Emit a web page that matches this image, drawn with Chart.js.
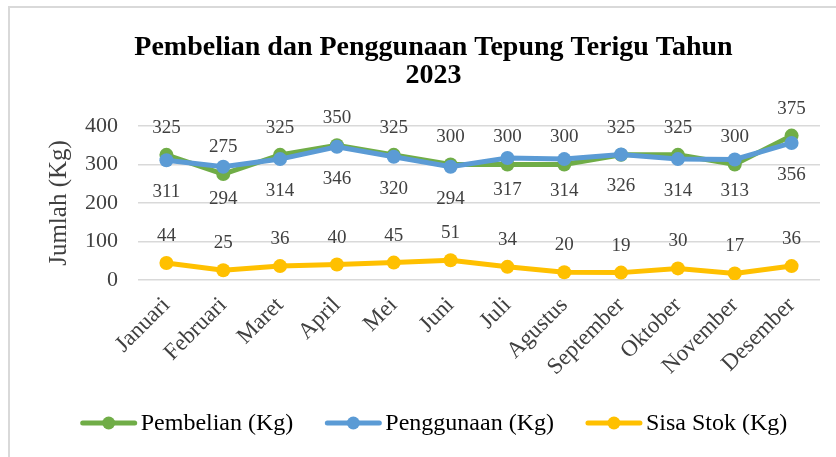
<!DOCTYPE html>
<html>
<head>
<meta charset="utf-8">
<script src="https://cdn.jsdelivr.net/npm/chart.js@4.4.1/dist/chart.umd.min.js"></script>
<style>
    body { margin: 0; background: #ffffff; }
    #wrap { position: relative; width: 836px; height: 457px; overflow: hidden; }
    #frame { position: absolute; left: 8px; top: 6px; width: 900px; height: 520px; border: 2px solid #d9d9d9; }
    #chart { position: absolute; left: 0; top: 0; }
</style>
</head>
<body>
<div id="wrap">
    <div id="frame"></div>
    <canvas id="chart" width="836" height="457"></canvas>
</div>
<script>
const bulan = ["Januari", "Februari", "Maret", "April", "Mei", "Juni", "Juli", "Agustus", "September", "Oktober", "November", "Desember"];
const pembelian = [325, 275, 325, 350, 325, 300, 300, 300, 325, 325, 300, 375];
const penggunaan = [311, 294, 314, 346, 320, 294, 317, 314, 326, 314, 313, 356];
const sisaStok = [44, 25, 36, 40, 45, 51, 34, 20, 19, 30, 17, 36];
const yTicks = [0, 100, 200, 300, 400];

const serif = "'Liberation Serif', 'Times New Roman', serif";

// value labels next to each point, offset per dataset
const valueLabels = {
    id: 'valueLabels',
    afterDatasetsDraw(chart) {
        const ctx = chart.ctx;
        ctx.save();
        ctx.font = "19px " + serif;
        ctx.fillStyle = "#404040";
        ctx.textAlign = "center";
        ctx.textBaseline = "middle";
        chart.data.datasets.forEach((ds, i) => {
            const meta = chart.getDatasetMeta(i);
            meta.data.forEach((pt, j) => {
                ctx.fillText(ds.data[j], pt.x, pt.y + ds.labelOffset);
            });
        });
        ctx.restore();
    }
};

// legend with line + marker like the office chart
const lineLegend = {
    id: 'lineLegend',
    afterDraw(chart) {
        const ctx = chart.ctx;
        const y = 423;
        const lineLen = 56, gap = 4, space = 32;
        ctx.save();
        ctx.font = "24px " + serif;
        let total = 0;
        const widths = chart.data.datasets.map(ds => ctx.measureText(ds.label).width);
        widths.forEach(w => total += lineLen + gap + w);
        total += space * (widths.length - 1);
        let x = 434 - total / 2;
        chart.data.datasets.forEach((ds, i) => {
            ctx.strokeStyle = ds.borderColor;
            ctx.lineWidth = 5;
            ctx.lineCap = "round";
            ctx.beginPath();
            ctx.moveTo(x + 2, y);
            ctx.lineTo(x + lineLen - 2, y);
            ctx.stroke();
            ctx.fillStyle = ds.borderColor;
            ctx.beginPath();
            ctx.arc(x + lineLen / 2, y, 6.5, 0, Math.PI * 2);
            ctx.fill();
            ctx.fillStyle = "#000000";
            ctx.textAlign = "left";
            ctx.textBaseline = "middle";
            ctx.fillText(ds.label, x + lineLen + gap, y + 1);
            x += lineLen + gap + widths[i] + space;
        });
        ctx.restore();
    }
};

function makeSet(label, data, color, order, offset) {
    return {
        label: label,
        data: data,
        borderColor: color,
        backgroundColor: color,
        borderWidth: 5,
        pointRadius: 7,
        pointBorderWidth: 0,
        pointBackgroundColor: color,
        tension: 0,
        order: order,
        labelOffset: offset
    };
}

const chart = new Chart(document.getElementById('chart'), {
    type: 'line',
    data: {
        labels: bulan,
        datasets: [
            makeSet('Pembelian (Kg)', pembelian, '#70ad47', 2, -27),
            makeSet('Penggunaan (Kg)', penggunaan, '#5b9bd5', 1, 32),
            makeSet('Sisa Stok (Kg)', sisaStok, '#ffc000', 0, -27)
        ]
    },
    options: {
        responsive: false,
        animation: false,
        layout: {
            padding: { top: 34, left: 47, right: 16, bottom: 72 }
        },
        plugins: {
            legend: { display: false },
            tooltip: { enabled: false },
            title: {
                display: true,
                text: ['Pembelian dan Penggunaan Tepung Terigu Tahun', '2023'],
                color: '#000000',
                font: { family: serif, size: 28, weight: 'bold', lineHeight: 1.0 },
                padding: { top: 0, bottom: 36 }
            }
        },
        scales: {
            x: {
                offset: true,
                grid: { display: false },
                border: { display: false },
                ticks: {
                    color: '#404040',
                    font: { family: serif, size: 23 },
                    minRotation: 45,
                    maxRotation: 45,
                    autoSkip: false,
                    padding: 4
                }
            },
            y: {
                min: 0,
                max: 400,
                afterBuildTicks: axis => { axis.ticks = yTicks.map(v => ({ value: v })); },
                afterFit: axis => { axis.width = 91; },
                grid: { color: '#d9d9d9', lineWidth: 1.5, drawTicks: false },
                border: { display: false },
                ticks: {
                    color: '#404040',
                    font: { family: serif, size: 22 },
                    padding: 20
                },
                title: {
                    display: true,
                    text: 'Jumlah (Kg)',
                    color: '#404040',
                    font: { family: serif, size: 25, lineHeight: 1.0 },
                    padding: { top: 0, bottom: 0 }
                }
            }
        }
    },
    plugins: [valueLabels, lineLegend]
});
</script>
</body>
</html>
